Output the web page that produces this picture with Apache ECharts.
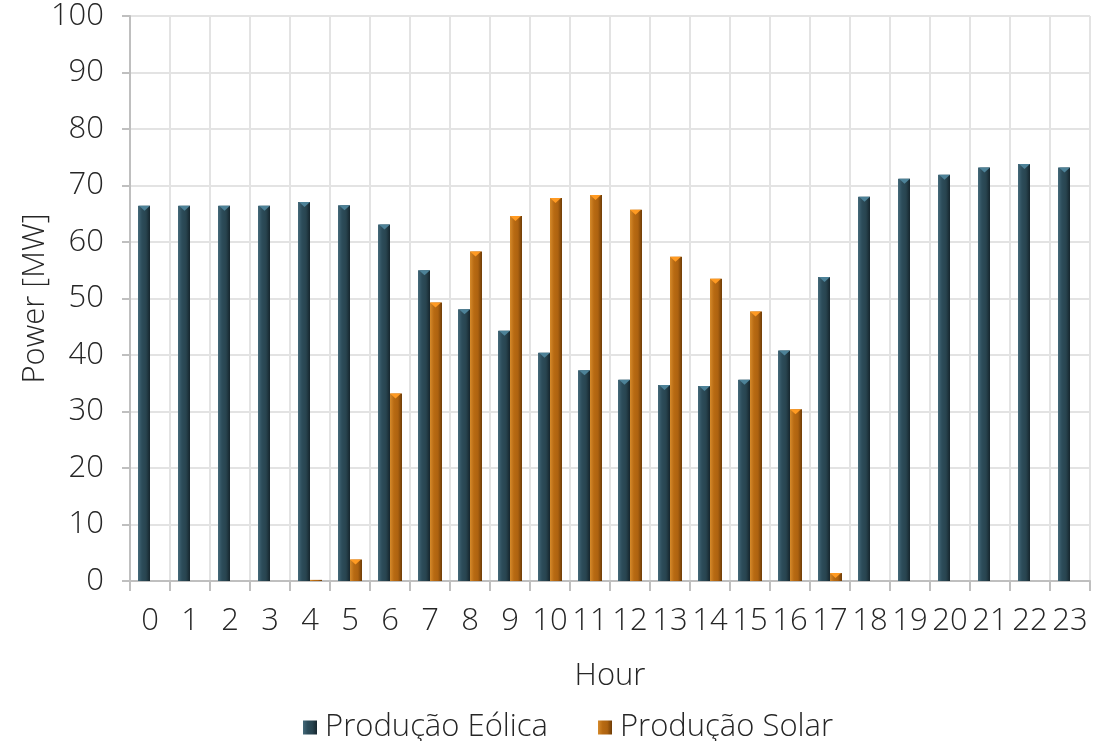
<!DOCTYPE html>
<html>
<head>
<meta charset="utf-8">
<script src="https://cdn.jsdelivr.net/npm/echarts@6/dist/echarts.min.js"></script>
<style>
  html, body { margin: 0; padding: 0; background: #ffffff; }
  #chart { width: 1109px; height: 741px; }
</style>
</head>
<body>
<div id="chart"></div>
<script>
// Hourly power production (MW)
const hours = ['0','1','2','3','4','5','6','7','8','9','10','11','12','13','14','15','16','17','18','19','20','21','22','23'];
const windPower = [66.4, 66.4, 66.4, 66.4, 67.1, 66.5, 63.1, 55.0, 48.1, 44.3, 40.4, 37.3, 35.6, 34.7, 34.5, 35.6, 40.8, 53.8, 68.0, 71.2, 71.9, 73.2, 73.8, 73.2];
const solarPower = [0, 0, 0, 0, 0.2, 3.8, 33.2, 49.3, 58.3, 64.6, 67.8, 68.3, 65.7, 57.4, 53.5, 47.7, 30.4, 1.4, 0, 0, 0, 0, 0, 0];
const yTicks = [0, 10, 20, 30, 40, 50, 60, 70, 80, 90, 100];

const FONT = '"Open Sans", "DejaVu Sans", sans-serif';
const TEXT = '#262626';
const FS = 31;
const FW = 300;
const BAR_W = 12;

function hGrad(stops) {
  return new echarts.graphic.LinearGradient(0, 0, 1, 0, stops.map((c, i) => ({ offset: i / (stops.length - 1), color: c })));
}
const windFill = hGrad(['#456a7a', '#2c4c5a', '#28444f', '#16262e']);
const solarFill = hGrad(['#d58a2c', '#b86a12', '#ad6210', '#6e3c06']);

// small bevel caps on top of each bar
const capData = arr => arr.map(v => (v >= 1 ? v : '-'));

const chart = echarts.init(document.getElementById('chart'), null, { renderer: 'canvas' });
chart.setOption({
  animation: false,
  backgroundColor: '#ffffff',
  grid: { left: 130, right: 19, top: 16, bottom: 160, containLabel: false },
  legend: {
    top: 707,
    left: 298,
    itemWidth: 14,
    itemHeight: 14,
    itemGap: 50,
    icon: 'rect',
    data: ['Produção Eólica', 'Produção Solar'],
    textStyle: { fontFamily: FONT, fontSize: FS, fontWeight: FW, color: TEXT, padding: [0, 0, 0, 3] }
  },
  xAxis: {
    type: 'category',
    data: hours,
    name: 'Hour',
    nameLocation: 'middle',
    nameGap: 80,
    nameTextStyle: { fontFamily: FONT, fontSize: FS, fontWeight: FW, color: TEXT },
    axisLine: { lineStyle: { color: '#bfbfbf', width: 2 } },
    axisTick: { show: true, length: 10, lineStyle: { color: '#bfbfbf', width: 2 } },
    axisLabel: { fontFamily: FONT, fontSize: FS, fontWeight: FW, color: TEXT, margin: 25, interval: 0 },
    splitLine: { show: true, interval: 0, lineStyle: { color: '#e3e3e3', width: 2 } }
  },
  yAxis: {
    type: 'value',
    min: yTicks[0],
    max: yTicks[yTicks.length - 1],
    interval: yTicks[1] - yTicks[0],
    name: 'Power [MW]',
    nameLocation: 'middle',
    nameGap: 79,
    nameMoveOverlap: false,
    nameRotate: 90,
    nameTextStyle: { fontFamily: FONT, fontSize: FS, fontWeight: FW, color: TEXT },
    axisLine: { show: true, lineStyle: { color: '#bfbfbf', width: 2 } },
    axisTick: { show: true, length: 8, lineStyle: { color: '#bfbfbf', width: 2 } },
    axisLabel: { fontFamily: FONT, fontSize: FS, fontWeight: FW, color: TEXT, margin: 26 },
    splitLine: { show: true, lineStyle: { color: '#e3e3e3', width: 2 } }
  },
  series: [
    {
      name: 'Produção Eólica',
      type: 'bar',
      data: windPower,
      barWidth: BAR_W,
      barGap: '0%',
      itemStyle: { color: windFill }
    },
    {
      name: 'Produção Solar',
      type: 'bar',
      data: solarPower,
      barWidth: BAR_W,
      barGap: '0%',
      itemStyle: { color: solarFill }
    },
    {
      name: 'Produção Eólica',
      type: 'pictorialBar',
      data: capData(windPower),
      symbol: 'triangle',
      symbolRotate: 180,
      symbolSize: [BAR_W - 1, 5],
      symbolPosition: 'end',
      symbolOffset: ['-50%', 0],
      z: 5,
      itemStyle: { color: '#4d8298' },
      silent: true,
      legendHoverLink: false
    },
    {
      name: 'Produção Solar',
      type: 'pictorialBar',
      data: capData(solarPower),
      symbol: 'triangle',
      symbolRotate: 180,
      symbolSize: [BAR_W - 1, 5],
      symbolPosition: 'end',
      symbolOffset: ['50%', 0],
      z: 5,
      itemStyle: { color: '#ff9a22' },
      silent: true,
      legendHoverLink: false
    }
  ]
});
</script>
</body>
</html>
